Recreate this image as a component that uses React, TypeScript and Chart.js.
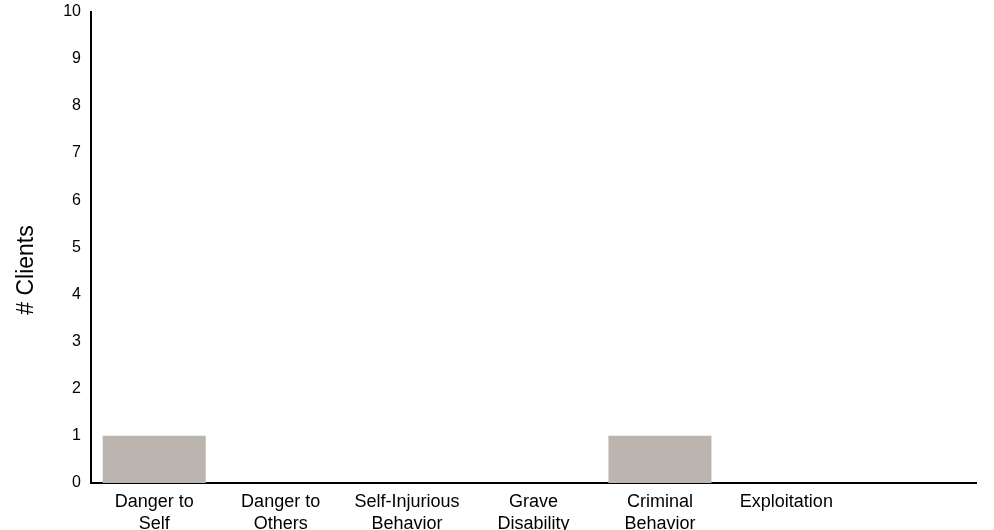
import React, { useEffect, useRef } from "react";
import { Chart, registerables } from "chart.js";

Chart.register(...registerables);

const categories: (string | string[])[] = [
  ["Danger to", "Self"],
  ["Danger to", "Others"],
  ["Self-Injurious", "Behavior"],
  ["Grave", "Disability"],
  ["Criminal", "Behavior"],
  "Exploitation",
  "",
];
const clients = [1, 0, 0, 0, 1, 0, 0];
const yTicks = [0, 1, 2, 3, 4, 5, 6, 7, 8, 9, 10];
const yTitle = "# Clients";

const font = "'Liberation Sans', Arial, sans-serif";

const yTitlePlugin = {
  id: "yTitlePlugin",
  afterDraw(chart: any) {
    const ctx = chart.ctx;
    ctx.save();
    ctx.translate(33, 270);
    ctx.rotate(-Math.PI / 2);
    ctx.font = `23px ${font}`;
    ctx.fillStyle = "#000";
    ctx.textAlign = "center";
    ctx.textBaseline = "alphabetic";
    ctx.fillText(yTitle, 0, 0);
    ctx.restore();
  },
};

export default function App() {
  const ref = useRef<HTMLCanvasElement | null>(null);
  useEffect(() => {
    document.body.style.margin = "0";
    const chart = new Chart(ref.current!, {
      type: "bar",
      data: {
        labels: categories,
        datasets: [
          {
            data: clients,
            backgroundColor: "#bcb5af",
            borderWidth: 0,
            categoryPercentage: 1,
            barPercentage: 0.815,
          },
        ],
      },
      plugins: [yTitlePlugin],
      options: {
        animation: false,
        responsive: false,
        maintainAspectRatio: false,
        layout: { padding: { top: -3, right: 18, left: 0, bottom: 0 } },
        plugins: { legend: { display: false }, tooltip: { enabled: false } },
        scales: {
          x: {
            grid: { display: false },
            border: { display: true, color: "#000", width: 2 },
            ticks: {
              color: "#000",
              font: { family: font, size: 18, lineHeight: 1.17 },
              maxRotation: 0,
              autoSkip: false,
              padding: 1,
            },
            afterFit: (s: any) => {
              s.height = 47;
            },
          },
          y: {
            min: 0,
            max: 10,
            afterBuildTicks: (s: any) => {
              s.ticks = yTicks.map((v) => ({ value: v }));
            },
            grid: { display: false },
            border: { display: true, color: "#000", width: 2 },
            ticks: {
              color: "#000",
              font: { family: font, size: 16 },
              padding: 2,
            },
            afterFit: (s: any) => {
              s.width = 91;
            },
          },
        },
      },
    });
    return () => chart.destroy();
  }, []);
  return (
    <div style={{ width: 994, height: 530 }}>
      <canvas ref={ref} width={994} height={530} style={{ display: "block" }} />
    </div>
  );
}
